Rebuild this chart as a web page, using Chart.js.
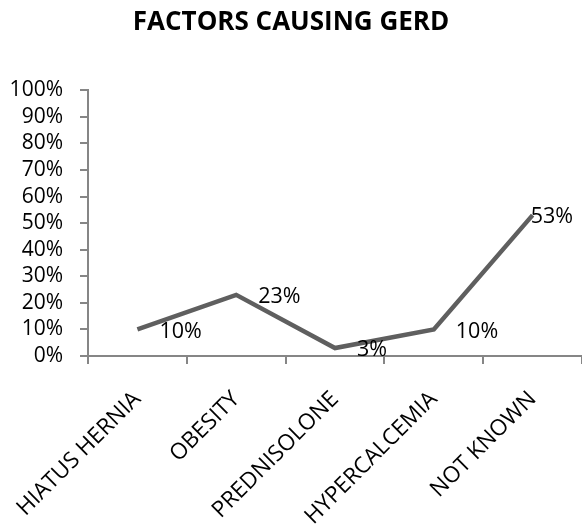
<!DOCTYPE html>
<html lang="en">
<head>
  <meta charset="UTF-8">
  <title>Factors causing GERD</title>
  <style>
    html, body {
      margin: 0;
      padding: 0;
      background: #fff;
      overflow: hidden;
    }
  </style>
</head>
<body>

  <canvas id="gerdChart" width="582" height="528"></canvas>

  <script src="https://cdn.jsdelivr.net/npm/chart.js"></script>
  <script>
    // data
    var categories = ['HIATUS HERNIA', 'OBESITY', 'PREDNISOLONE', 'HYPERCALCEMIA', 'NOT KNOWN'];
    var percents = [10, 23, 3, 10, 53];
    var yMin = 0;
    var yMax = 100;
    var yStep = 10;

    var fontFamily = '"Open Sans", Arial, sans-serif';
    var axisGray = '#868686';

    // value labels to the right of each point (pushed back inside if they'd run off)
    var pointLabels = {
      id: 'pointLabels',
      afterDatasetsDraw: function(chart) {
        var ctx = chart.ctx;
        var meta = chart.getDatasetMeta(0);
        ctx.save();
        ctx.font = '21.5px ' + fontFamily;
        ctx.fillStyle = '#000';
        ctx.textAlign = 'left';
        ctx.textBaseline = 'middle';
        meta.data.forEach(function(pt, i) {
          var txt = percents[i] + '%';
          var w = ctx.measureText(txt).width;
          var x = Math.min(pt.x + 22, chart.width - w - 9);
          ctx.fillText(txt, x, pt.y + 2);
        });
        ctx.restore();
      }
    };

    var ctx = document.getElementById('gerdChart').getContext('2d');
    var gerdChart = new Chart(ctx, {
      type: 'line',
      data: {
        labels: categories,
        datasets: [{
          label: 'Factors',
          data: percents,
          borderColor: '#5f5f5f',
          borderWidth: 4.5,
          pointRadius: 0,
          tension: 0,
          fill: false
        }]
      },
      options: {
        responsive: false,
        animation: false,
        layout: { padding: 0 },
        plugins: {
          legend: { display: false },
          tooltip: { enabled: false },
          title: {
            display: true,
            text: 'FACTORS CAUSING GERD',
            color: '#000',
            font: { family: fontFamily, size: 26, weight: 'bold', lineHeight: 1.2 },
            padding: { top: 7, bottom: 52 }
          }
        },
        scales: {
          x: {
            offset: true,
            grid: {
              offset: true,
              drawOnChartArea: false,
              drawTicks: true,
              tickLength: 8,
              color: axisGray,
              lineWidth: 2
            },
            border: { color: axisGray, width: 2 },
            ticks: {
              autoSkip: false,
              minRotation: 45,
              maxRotation: 45,
              padding: 22,
              color: '#000',
              font: { family: fontFamily, size: 22.5 }
            },
            afterFit: function(scale) {
              scale.height = 172;
              // rotated labels may hang past the axis start, like in the original
              scale.paddingLeft = 0;
              scale.paddingRight = 0;
            }
          },
          y: {
            min: yMin,
            max: yMax,
            grid: {
              drawOnChartArea: false,
              drawTicks: true,
              tickLength: 8,
              color: axisGray,
              lineWidth: 2
            },
            border: { color: axisGray, width: 2 },
            ticks: {
              autoSkip: false,
              stepSize: yStep,
              padding: 17,
              color: '#000',
              font: { family: fontFamily, size: 21 },
              callback: function(v) { return v + '%'; }
            },
            afterFit: function(scale) { scale.width = 88; }
          }
        }
      },
      plugins: [pointLabels]
    });
  </script>

</body>
</html>
